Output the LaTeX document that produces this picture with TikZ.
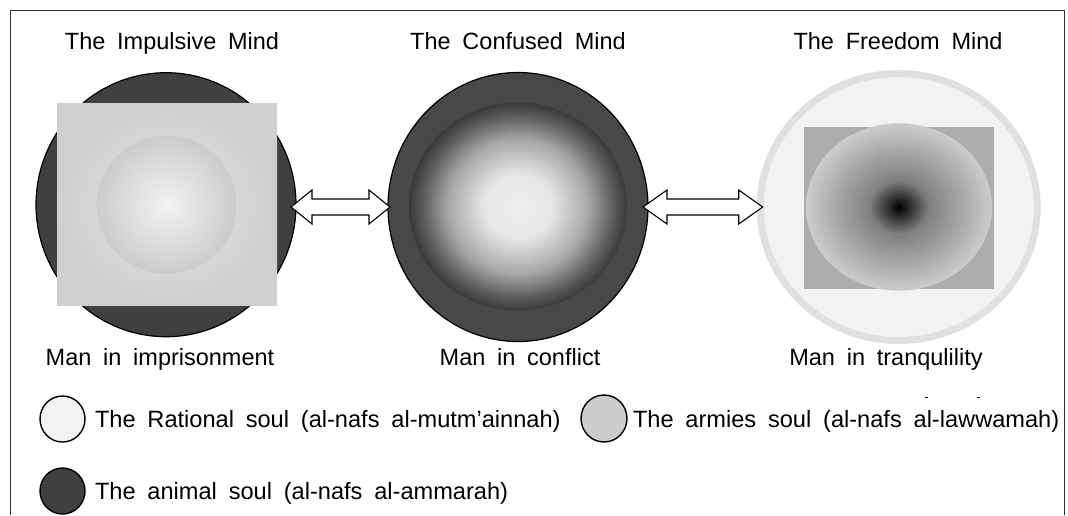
\documentclass[tikz,border=0pt]{standalone}
\usepackage{fontspec}
\setmainfont{Liberation Sans}[WordSpace=1.8]
\usetikzlibrary{shapes.geometric,calc}
\definecolor{darksoul}{HTML}{404040}
\definecolor{midsoul}{HTML}{484848}
\definecolor{midedge}{HTML}{3A3A3A}
\definecolor{midlight}{HTML}{EFEFEF}
\definecolor{midA}{HTML}{E4E4E4}
\definecolor{midB}{HTML}{A8A8A8}
\definecolor{midC}{HTML}{5A5A5A}
\definecolor{lightsoul}{HTML}{F2F2F2}
\definecolor{graysoul}{HTML}{CCCCCC}
\definecolor{ringgray}{HTML}{E0E0E0}
\definecolor{sqgray}{HTML}{ADADAD}
\definecolor{framegray}{HTML}{303030}
\pgfdeclareradialshading{midball}{\pgfpoint{0bp}{0bp}}{color(0bp)=(midlight); color(8bp)=(midA); color(16bp)=(midB); color(22bp)=(midC); color(25bp)=(midedge); color(50bp)=(midedge)}
\pgfdeclareradialshading{freeball}{\pgfpoint{0bp}{0bp}}{color(0bp)=(black); color(8bp)=(black!50); color(25bp)=(graysoul); color(50bp)=(graysoul)}
\begin{document}
\begin{tikzpicture}[x=1pt,y=-1pt,
  every node/.style={outer sep=0pt, inner sep=0pt},
  ell/.style={ellipse},
  lbl/.style={font=\fontsize{23.5}{28}\selectfont, anchor=base},
  leg/.style={font=\fontsize{23.6}{28}\selectfont, anchor=base west},
  legdot/.style={ellipse, draw=black, line width=1.4pt, minimum width=45, minimum height=46},
  dblarrow/.style={draw=black, fill=white, line width=1.1pt, line join=miter}
]
\useasboundingbox (0,0) rectangle (1068,515);
% frame
\draw[framegray, line width=1pt] (10,515) -- (10,10) -- (1064,10) -- (1064,515);

% titles
\node[lbl] (t1) at (172,49.3) {The Impulsive Mind};
\node[lbl] (t2) at (518,49.3) {The Confused Mind};
\node[lbl] (t3) at (898,49.3) {The Freedom Mind};

% impulsive mind
\node[ell, fill=darksoul, draw=black, line width=1.2pt, minimum width=260, minimum height=264] (imp) at (166,204.7) {};
\node[rectangle, minimum width=220, minimum height=202, shade, inner color=black!10, outer color=black!19] (impsq) at (167,204.85) {};
\node[ell, minimum width=140, minimum height=138, shade, inner color=black!5, outer color=black!20] (impin) at (166.7,204.85) {};

% confused mind
\node[ell, fill=midsoul, draw=black, line width=1.2pt, minimum width=260, minimum height=269] (conf) at (518,207) {};
\node[ell, minimum width=218, minimum height=208, shading=midball] (confin) at (518,206.5) {};

% freedom mind
\node[ell, fill=lightsoul, draw=ringgray, line width=7pt, minimum width=277, minimum height=267] (free) at (898.7,207) {};
\node[rectangle, fill=sqgray, minimum width=190, minimum height=162.3] (freesq) at (899,207.85) {};
\node[ell, minimum width=186, minimum height=167.4, shading=freeball] (freein) at (899,207) {};

% arrows
\coordinate (a1s) at ($(imp.east |- conf.west)+(-5,0)$);
\coordinate (a1e) at ($(conf.west)+(2,0)$);
\coordinate (a2s) at ($(conf.east)+(-5,0)$);
\coordinate (a2e) at ($(free.west)+(2.5,0)$);
\newcommand\dblarr[3]{%
  \draw[dblarrow] (#1) -- ($(#1)+(#3,-17)$) -- ($(#1)+(#3,-8)$) -- ($(#2)+(-#3,-8)$) -- ($(#2)+(-#3,-17)$) -- (#2) -- ($(#2)+(-#3,17)$) -- ($(#2)+(-#3,8)$) -- ($(#1)+(#3,8)$) -- ($(#1)+(#3,17)$) -- cycle;}
\dblarr{a1s}{a1e}{21}
\dblarr{a2s}{a2e}{24}

% captions
\node[lbl] (c1) at (160,365.5) {Man in imprisonment};
\node[lbl] (c2) at (520,365.5) {Man in conflict};
\node[lbl] (c3) at (886,365.5) {Man in tranqulility};

% small marks
\draw[black, line width=0.8pt] (924.5,397) -- (927.5,397);
\draw[black, line width=0.8pt] (976.5,397) -- (979.5,397);

% legend
\node[legdot, fill=lightsoul] (l1) at (62.5,419) {};
\node[leg] (l1t) at (95,427.5) {The Rational soul (al-nafs al-mutm’ainnah)};
\node[legdot, fill=graysoul, minimum width=46, minimum height=47] (l2) at (604,418.5) {};
\node[leg] (l2t) at (633,427.5) {The armies soul (al-nafs al-lawwamah)};
\node[legdot, fill=darksoul] (l3) at (62.5,491) {};
\node[leg] (l3t) at (95,499.5) {The animal soul (al-nafs al-ammarah)};
\end{tikzpicture}
\end{document}
